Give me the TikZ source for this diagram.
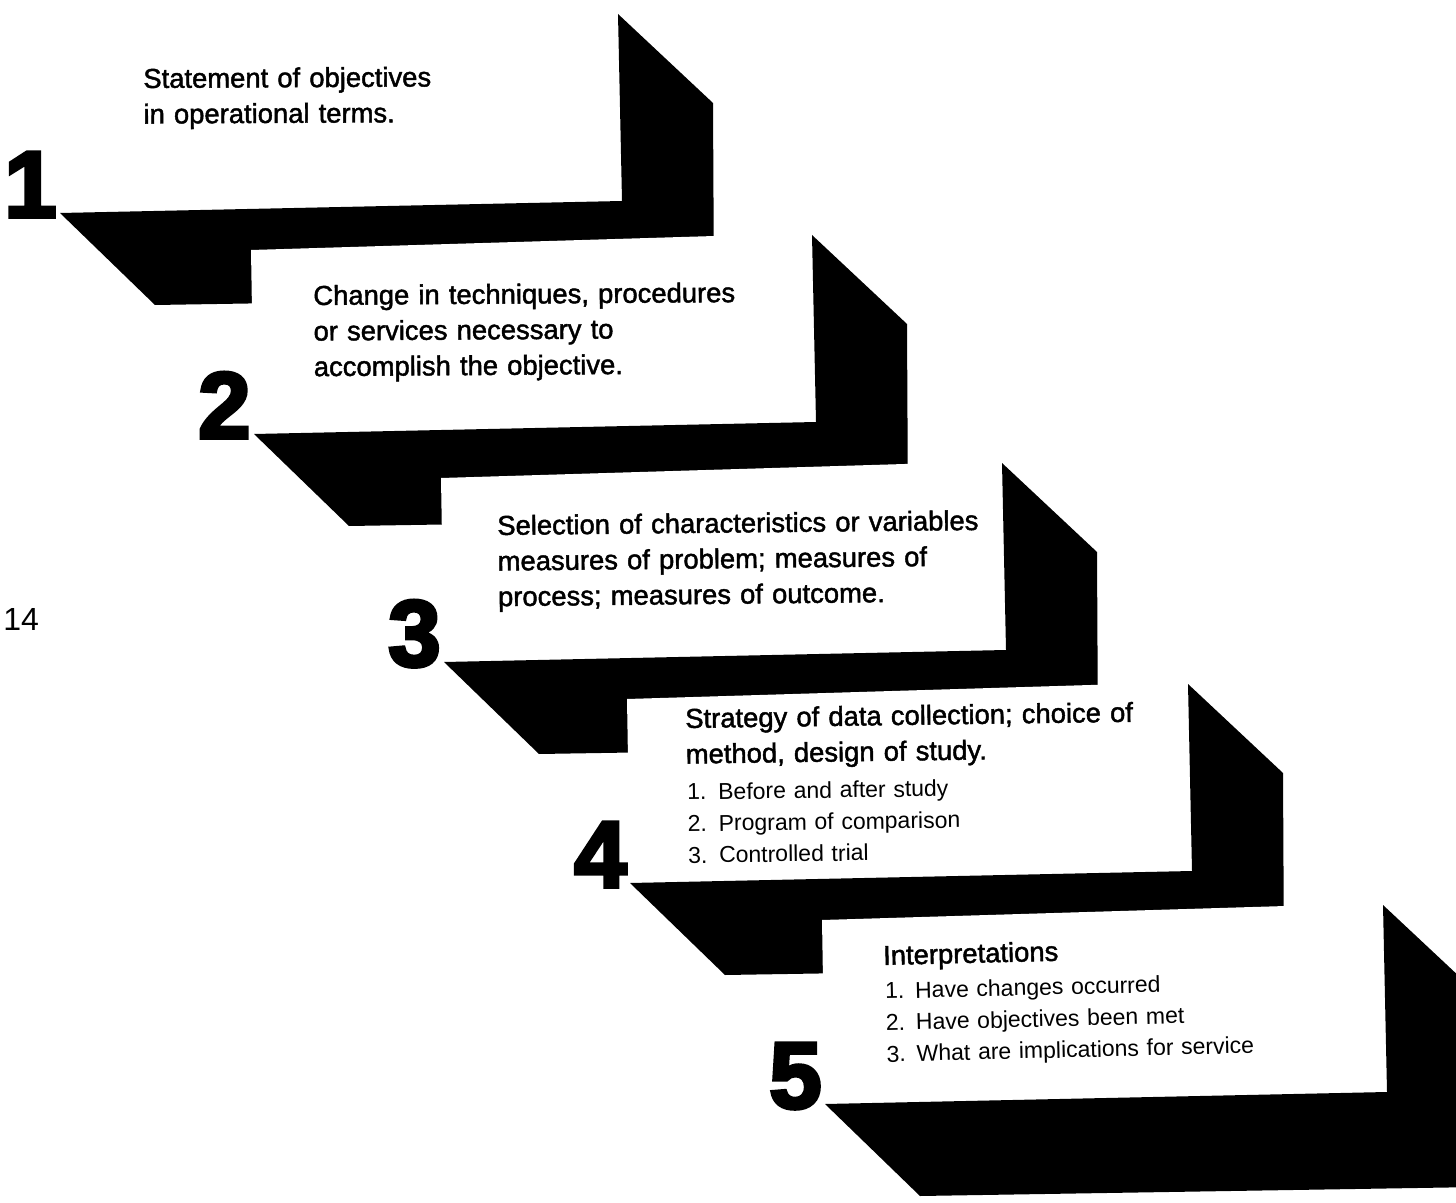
\documentclass[tikz,border=0pt]{standalone}
\usepackage{fontspec}
\setmainfont{Liberation Sans}
\newfontfamily\headfont{Liberation Sans}[FakeBold=1.6]
\newfontfamily\numfont{Liberation Sans}[FakeBold=4]
\begin{document}
\begin{tikzpicture}[x=0.5pt,y=-0.5pt,
    ribbon/.style={fill=black},
    card/.style={fill=white},
    numeral/.style={anchor=base east,inner sep=0pt,font=\numfont\bfseries\fontsize{47}{47}\selectfont},
    headtext/.style={anchor=base west,inner sep=0pt,text width=320pt,align=left,
        font=\headfont\fontsize{13.7}{17.8}\selectfont},
    listtext/.style={anchor=base west,inner sep=0pt,text width=320pt,align=left,
        font=\fontsize{11.5}{15.8}\selectfont}]
    \useasboundingbox (0,0) rectangle (1456,1203);
    \clip (0,0) rectangle (1456,1203);

    % the five steps, each card lies over the ribbon of the step above
    \foreach \n/\ox/\oy in {1/0/0,2/194/221,3/384/449,4/570/670,5/765/891}{
        \begin{scope}[shift={(\ox,\oy)}]
            \fill[card] (57,29) -- (620,12) -- (622,201) -- (60,213) -- cycle;
            \fill[ribbon] (60,213) -- (622,201) -- (618,14) -- (713,103) -- (714,296) -- (155,305) -- cycle;
            \node[numeral] (num\n) at (57,217) {\n};
        \end{scope}
    }

    \node[headtext,rotate=0.3] (txt1) at (143,88) {Statement of objectives\\in operational terms.};
    \node[headtext,rotate=0.4] (txt2) at (313,305) {Change in techniques, procedures\\or services necessary to\\accomplish the objective.};
    \node[headtext,rotate=0.6] (txt3) at (497,535) {Selection of characteristics or variables\\measures of problem; measures of\\process; measures of outcome.};
    \node[headtext,rotate=0.8] (txt4) at (685,728) {Strategy of data collection; choice of\\method, design of study.};
    \node[listtext,rotate=0.8] (list4) at (687,800) {\makebox[15.5pt][l]{1.}Before and after study\\
        \makebox[15.5pt][l]{2.}Program of comparison\\
        \makebox[15.5pt][l]{3.}Controlled trial};
    \node[headtext,rotate=1.4] (txt5) at (883,965) {Interpretations};
    \node[listtext,rotate=1.4] (list5) at (885,999) {\makebox[15pt][l]{1.}Have changes occurred\\
        \makebox[15pt][l]{2.}Have objectives been met\\
        \makebox[15pt][l]{3.}What are implications for service};

    % page number
    \node[anchor=base west,inner sep=0pt,font=\fontsize{16}{16}\selectfont] (page) at (3,630) {14};
\end{tikzpicture}
\end{document}
